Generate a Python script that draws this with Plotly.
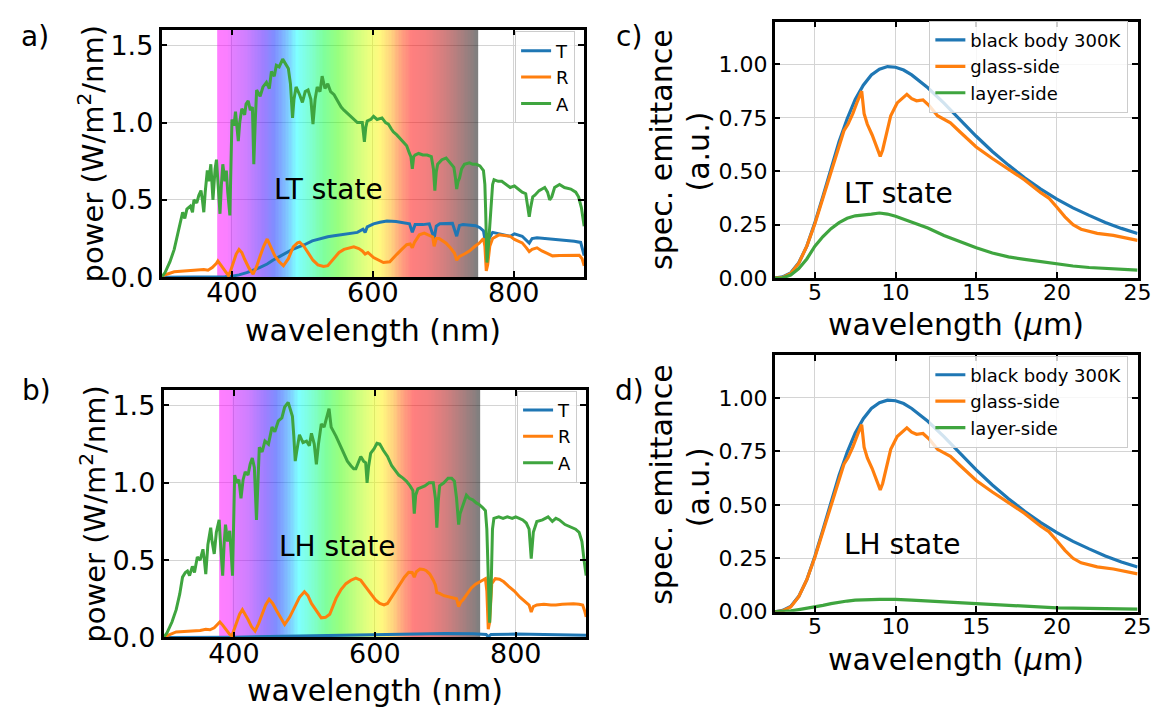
import numpy as np
import plotly.graph_objects as go

W, H = 1164, 713

# ---------------- data: panel a (LT state, solar spectrum) ----------------
LT_T_nm = [300, 320, 340, 360, 380, 390, 400, 410, 421, 430, 440, 450, 458, 468, 477, 486, 494, 503, 514, 526,
           536, 545, 554, 565, 578, 586, 589, 592, 601, 610, 620, 633, 645, 652, 656, 660, 671, 680, 687, 690,
           695, 705, 713, 719, 723, 728, 738, 746, 752, 757, 760, 762, 765, 770, 780, 795, 801, 812, 822, 826,
           833, 845, 860, 873, 886, 895, 900]
LT_T = [0.0, 0.0, 0.0, 0.0, 0.001, 0.003, 0.006, 0.015, 0.03, 0.045, 0.063, 0.085, 0.11, 0.135, 0.16, 0.18, 0.195,
        0.21, 0.235, 0.25, 0.262, 0.268, 0.275, 0.28, 0.29, 0.31, 0.29, 0.325, 0.345, 0.355, 0.363, 0.36, 0.352,
        0.345, 0.29, 0.34, 0.34, 0.345, 0.25, 0.33, 0.345, 0.345, 0.348, 0.265, 0.335, 0.34, 0.338, 0.333, 0.32,
        0.30, 0.22, 0.1, 0.25, 0.29, 0.28, 0.265, 0.28, 0.265, 0.22, 0.25, 0.255, 0.25, 0.245, 0.24, 0.233, 0.225,
        0.14]

LT_R_nm = [300, 302, 318, 330, 341, 352, 360, 366, 372, 378, 380, 384, 388, 392, 395, 398, 402, 406, 410, 414,
           418, 424, 430, 435, 440, 445, 450, 455, 461, 467, 473, 480, 487, 493, 496, 502, 508, 515, 522, 530,
           536, 545, 552, 559, 566, 573, 580, 585, 589, 593, 601, 608, 615, 624, 630, 634, 641, 648, 653, 656,
           659, 666, 673, 680, 685, 687, 690, 694, 704, 710, 716, 719, 723, 730, 737, 745, 751, 757, 759, 761,
           763, 766, 770, 779, 787, 795, 801, 807, 812, 818, 822, 826, 833, 840, 848, 855, 865, 876, 886, 893,
           897, 900]
LT_R = [0.0, 0.01, 0.035, 0.04, 0.04, 0.045, 0.05, 0.045, 0.063, 0.09, 0.105, 0.08, 0.053, 0.03, 0.01, 0.04,
        0.095, 0.15, 0.18, 0.16, 0.116, 0.06, 0.02, 0.07, 0.137, 0.2, 0.247, 0.2, 0.137, 0.1, 0.074, 0.12, 0.196,
        0.222, 0.226, 0.2, 0.158, 0.11, 0.08, 0.07, 0.075, 0.12, 0.16, 0.18, 0.19, 0.196, 0.185, 0.17, 0.15,
        0.16, 0.127, 0.11, 0.095, 0.1, 0.125, 0.148, 0.18, 0.21, 0.215, 0.19, 0.225, 0.274, 0.285, 0.268, 0.26,
        0.2, 0.25, 0.25, 0.22, 0.19, 0.155, 0.11, 0.135, 0.15, 0.169, 0.2, 0.22, 0.25, 0.2, 0.04, 0.08, 0.2,
        0.25, 0.274, 0.27, 0.264, 0.244, 0.23, 0.222, 0.19, 0.165, 0.18, 0.19, 0.17, 0.15, 0.138, 0.14, 0.142,
        0.14, 0.142, 0.12, 0.074]

LT_A_nm = [300, 305, 312, 318, 323, 327, 330, 333, 336, 341, 344, 346, 350, 353, 356, 358, 360, 362, 365, 367,
           370, 373, 376, 378, 380, 383, 385, 387, 390, 392, 394, 397, 400, 403, 405, 407, 409, 411, 414, 418,
           420, 423, 426, 429, 431, 433, 435, 440, 444, 449, 453, 456, 460, 463, 467, 472, 476, 480, 483, 486,
           488, 491, 496, 500, 504, 508, 512, 515, 518, 521, 525, 528, 532, 536, 540, 545, 550, 555, 559, 564,
           568, 573, 578, 585, 588, 590, 592, 597, 601, 606, 613, 618, 622, 626, 629, 634, 638, 643, 648, 652,
           654, 656, 658, 660, 665, 671, 677, 683, 686, 688, 690, 692, 698, 704, 710, 715, 717, 719, 721, 723,
           726, 730, 737, 742, 747, 752, 757, 759, 760, 762, 764, 767, 770, 772, 778, 783, 790, 795, 801, 806,
           812, 817, 820, 822, 824, 827, 830, 836, 844, 848, 851, 854, 858, 865, 872, 881, 888, 892, 896, 900]
LT_A = [0.0, 0.03, 0.1, 0.18, 0.28, 0.37, 0.42, 0.38, 0.44, 0.46, 0.42, 0.5, 0.48, 0.53, 0.56, 0.5, 0.42, 0.55,
        0.69, 0.62, 0.73, 0.5, 0.7, 0.76, 0.6, 0.41, 0.6, 0.73, 0.62, 0.69, 0.55, 0.4, 1.02, 0.98, 1.07, 0.96,
        0.88, 1.0, 1.09, 1.05, 1.12, 1.14, 1.08, 1.1, 0.73, 1.0, 1.21, 1.17, 1.23, 1.26, 1.22, 1.33, 1.3, 1.37,
        1.36, 1.41, 1.38, 1.35, 1.25, 1.03, 1.15, 1.23, 1.18, 1.13, 1.2, 1.21, 1.15, 0.99, 1.15, 1.23, 1.2, 1.3,
        1.22, 1.25, 1.2, 1.18, 1.14, 1.1, 1.08, 1.06, 1.04, 1.02, 1.0, 1.0, 0.875, 0.97, 1.01, 1.02, 1.04, 1.02,
        1.03, 1.0, 0.99, 0.96, 0.94, 0.92, 0.9, 0.87, 0.85, 0.8, 0.78, 0.7, 0.78, 0.79, 0.8, 0.79, 0.79, 0.78,
        0.7, 0.56, 0.68, 0.73, 0.76, 0.77, 0.74, 0.71, 0.65, 0.57, 0.62, 0.64, 0.7, 0.73, 0.74, 0.73, 0.73, 0.72,
        0.69, 0.6, 0.45, 0.095, 0.2, 0.43, 0.6, 0.63, 0.62, 0.62, 0.6, 0.58, 0.59, 0.57, 0.55, 0.54, 0.46, 0.39,
        0.45, 0.52, 0.53, 0.56, 0.58, 0.55, 0.5, 0.52, 0.58, 0.6, 0.58, 0.57, 0.55, 0.52, 0.45, 0.33]

# ---------------- data: panel b (LH state) ----------------
LH_T_nm = [300, 380, 400, 450, 500, 550, 600, 650, 700, 740, 758, 761, 765, 800, 850, 900]
LH_T = [0.0, 0.0, 0.002, 0.006, 0.01, 0.015, 0.02, 0.022, 0.025, 0.024, 0.02, 0.005, 0.02, 0.022, 0.02, 0.015]

LH_R_nm = [300, 302, 318, 330, 341, 352, 360, 366, 372, 377, 380, 384, 390, 394, 397, 400, 404, 408, 412, 416,
           420, 425, 430, 435, 440, 445, 450, 455, 461, 467, 472, 479, 486, 493, 500, 505, 510, 517, 524, 530,
           536, 545, 552, 559, 566, 573, 580, 587, 593, 601, 607, 613, 618, 624, 630, 636, 642, 648, 653, 656,
           659, 664, 669, 673, 678, 683, 686, 688, 692, 698, 704, 710, 716, 719, 722, 725, 731, 737, 743, 748,
           753, 757, 759, 761, 763, 766, 771, 777, 783, 790, 798, 806, 814, 819, 822, 825, 830, 840, 850, 857,
           866, 875, 882, 890, 895, 898, 900]
LH_R = [0.0, 0.006, 0.036, 0.04, 0.042, 0.045, 0.053, 0.05, 0.063, 0.085, 0.1, 0.08, 0.042, 0.02, 0.01, 0.05,
        0.105, 0.15, 0.18, 0.15, 0.116, 0.07, 0.042, 0.09, 0.148, 0.21, 0.247, 0.22, 0.169, 0.12, 0.084, 0.13,
        0.2, 0.26, 0.295, 0.27, 0.22, 0.17, 0.127, 0.13, 0.15, 0.253, 0.31, 0.348, 0.37, 0.384, 0.37, 0.327,
        0.29, 0.243, 0.22, 0.211, 0.22, 0.264, 0.31, 0.348, 0.39, 0.422, 0.42, 0.39, 0.425, 0.443, 0.44, 0.432,
        0.41, 0.37, 0.34, 0.29, 0.285, 0.27, 0.264, 0.255, 0.25, 0.2, 0.23, 0.243, 0.28, 0.32, 0.345, 0.36,
        0.37, 0.38, 0.3, 0.053, 0.1, 0.348, 0.38, 0.377, 0.36, 0.33, 0.3, 0.26, 0.23, 0.21, 0.165, 0.2, 0.21,
        0.215, 0.21, 0.21, 0.215, 0.218, 0.218, 0.215, 0.21, 0.17, 0.133]

LH_A_nm = [300, 305, 312, 318, 323, 327, 331, 334, 337, 341, 344, 348, 352, 356, 358, 360, 363, 367, 369, 372,
           375, 379, 381, 384, 386, 388, 391, 394, 396, 398, 401, 404, 407, 409, 410, 413, 416, 420, 423, 426,
           429, 432, 434, 436, 440, 444, 449, 454, 458, 463, 468, 472, 477, 480, 483, 485, 487, 489, 493, 498,
           503, 507, 510, 514, 517, 520, 524, 528, 532, 535, 538, 542, 545, 550, 556, 561, 566, 570, 573, 577,
           580, 584, 587, 589, 591, 594, 599, 603, 607, 612, 618, 624, 629, 634, 640, 645, 650, 654, 656, 658,
           661, 666, 671, 677, 683, 686, 688, 690, 692, 698, 704, 709, 713, 716, 719, 721, 725, 730, 734, 739,
           744, 748, 753, 757, 759, 761, 763, 765, 767, 769, 776, 782, 788, 795, 800, 805, 810, 815, 819, 822,
           825, 830, 838, 846, 852, 857, 862, 870, 878, 885, 890, 894, 897, 900]
LH_A = [0.0, 0.03, 0.1, 0.18, 0.28, 0.39, 0.42, 0.43, 0.4, 0.46, 0.42, 0.52, 0.5, 0.57, 0.5, 0.41, 0.6, 0.71,
        0.62, 0.54, 0.68, 0.76, 0.6, 0.4, 0.6, 0.73, 0.62, 0.69, 0.55, 0.4, 1.05, 1.0, 1.02, 0.95, 0.9, 1.02,
        1.07, 1.05, 1.12, 1.16, 1.1, 0.76, 1.05, 1.23, 1.2, 1.27, 1.25, 1.36, 1.33, 1.4, 1.42, 1.49, 1.52, 1.48,
        1.43, 1.3, 1.14, 1.2, 1.31, 1.26, 1.27, 1.24, 1.32, 1.25, 1.12, 1.25, 1.38, 1.36, 1.44, 1.48, 1.36, 1.33,
        1.3, 1.25, 1.19, 1.14, 1.11, 1.09, 1.09, 1.13, 1.17, 1.14, 1.13, 1.0, 1.1, 1.19, 1.22, 1.255, 1.25, 1.21,
        1.17, 1.11, 1.08, 1.05, 1.03, 1.01, 0.98, 0.95, 0.8, 0.92, 0.96, 0.97, 0.98, 1.0, 1.0, 0.9, 0.71, 0.88,
        0.98, 1.0, 1.03, 1.03, 1.01, 0.9, 0.73, 0.8, 0.85, 0.92, 0.9, 0.89, 0.87, 0.86, 0.84, 0.82, 0.7, 0.35,
        0.095, 0.3, 0.7, 0.77, 0.78, 0.77, 0.78, 0.77, 0.78, 0.77, 0.76, 0.74, 0.7, 0.51, 0.68, 0.75, 0.76, 0.78,
        0.75, 0.77, 0.76, 0.73, 0.715, 0.7, 0.68, 0.62, 0.5, 0.40]

# ---------------- data: panels c, d (thermal emittance) ----------------
BB_um = [2.5, 3.0, 3.5, 4.0, 4.5, 5.0, 5.5, 6.0, 6.5, 7.0, 7.5, 8.0, 8.5, 9.0, 9.5, 10.0, 10.5, 11.0, 12.0, 13.0,
         14.0, 15.0, 16.0, 17.0, 18.0, 19.0, 20.0, 21.0, 22.0, 23.0, 24.0, 25.0]
BB = [0.0, 0.006, 0.025, 0.072, 0.15, 0.26, 0.384, 0.514, 0.639, 0.746, 0.836, 0.903, 0.951, 0.978, 0.99, 0.987,
      0.974, 0.951, 0.891, 0.819, 0.741, 0.664, 0.593, 0.529, 0.470, 0.417, 0.370, 0.329, 0.294, 0.261, 0.233,
      0.209]

GLASS_um = [2.5, 3.0, 3.5, 4.0, 4.5, 5.0, 5.5, 6.0, 6.5, 6.8, 7.05, 7.35, 7.65, 7.9, 8.05, 8.25, 8.55, 8.85, 9.05,
            9.2, 9.4, 9.7, 10.1, 10.5, 10.7, 11.0, 11.3, 11.7, 12.1, 12.6, 13.4, 14.0, 15.0, 16.0, 17.0, 17.5,
            18.0, 19.0, 19.5, 20.0, 20.5, 21.0, 21.5, 22.5, 23.5, 25.0]
GLASS = [0.0, 0.004, 0.022, 0.07, 0.15, 0.255, 0.375, 0.5, 0.615, 0.69, 0.72, 0.77, 0.83, 0.875, 0.77, 0.72, 0.67,
         0.605, 0.57, 0.6, 0.67, 0.76, 0.82, 0.85, 0.86, 0.84, 0.83, 0.834, 0.806, 0.76, 0.727, 0.684, 0.614, 0.56,
         0.51, 0.485, 0.46, 0.40, 0.375, 0.332, 0.287, 0.25, 0.229, 0.21, 0.20, 0.177]

LAYER_um = [2.5, 3.0, 3.5, 4.0, 4.5, 5.0, 5.5, 6.0, 6.5, 7.0, 7.5, 8.0, 8.5, 9.0, 9.5, 10.0, 11.0, 12.0, 13.0, 14.0,
            15.0, 16.0, 17.0, 18.0, 19.0, 20.0, 21.0, 22.0, 23.0, 24.0, 25.0]
LAYER_LT = [0.0, 0.002, 0.015, 0.045, 0.09, 0.15, 0.195, 0.232, 0.26, 0.28, 0.292, 0.295, 0.3, 0.305, 0.3, 0.29,
            0.264, 0.235, 0.2, 0.17, 0.142, 0.118, 0.1, 0.088, 0.077, 0.066, 0.057, 0.05, 0.045, 0.041, 0.038]
LAYER_LH = [0.0, 0.001, 0.004, 0.01, 0.016, 0.023, 0.03, 0.038, 0.045, 0.05, 0.054, 0.056, 0.057, 0.058, 0.058,
            0.058, 0.054, 0.05, 0.045, 0.04, 0.036, 0.032, 0.028, 0.025, 0.021, 0.018, 0.017, 0.015, 0.014, 0.013,
            0.012]

# visible band (background gradient)
BAND_NM = list(range(380, 749, 2))
BAND_STOPS = [(380, "rgb(255,0,255)"), (395, "rgb(245,0,255)"), (400, "rgb(200,0,255)"), (420, "rgb(160,0,255)"),
              (445, "rgb(60,0,255)"), (460, "rgb(0,30,255)"), (475, "rgb(0,120,255)"), (492, "rgb(0,255,255)"),
              (510, "rgb(0,255,170)"), (530, "rgb(0,255,60)"), (550, "rgb(50,255,0)"), (575, "rgb(150,255,0)"),
              (598, "rgb(230,255,0)"), (610, "rgb(255,240,0)"), (625, "rgb(255,170,0)"), (640, "rgb(255,70,0)"),
              (655, "rgb(255,0,0)"), (675, "rgb(235,0,0)"), (700, "rgb(170,0,0)"), (725, "rgb(85,0,0)"),
              (748, "rgb(0,0,0)")]

C_BLUE, C_ORANGE, C_GREEN = "#1f77b4", "#ff7f0e", "#3fa53f"

fig = go.Figure()
zmin, zmax = BAND_STOPS[0][0], BAND_STOPS[-1][0]
cscale = [[(w - zmin) / (zmax - zmin), c] for w, c in BAND_STOPS]

def band(xa, ya):
    fig.add_trace(go.Heatmap(x=BAND_NM, y=[0.0, 1.6], z=[BAND_NM, BAND_NM], colorscale=cscale, zmin=zmin, zmax=zmax,
                             showscale=False, opacity=0.5, hoverinfo="skip", xaxis=xa, yaxis=ya))

def line(x, y, name, color, xa, ya, leg, width=3):
    fig.add_trace(go.Scatter(x=x, y=y, mode="lines", name=name, line=dict(color=color, width=width),
                             xaxis=xa, yaxis=ya, legend=leg, legendgroup=leg + name))

band("x", "y")
line(LT_T_nm, LT_T, "T", C_BLUE, "x", "y", "legend")
line(LT_R_nm, LT_R, "R", C_ORANGE, "x", "y", "legend")
line(LT_A_nm, LT_A, "A", C_GREEN, "x", "y", "legend")

band("x2", "y2")
line(LH_T_nm, LH_T, "T", C_BLUE, "x2", "y2", "legend2")
line(LH_R_nm, LH_R, "R", C_ORANGE, "x2", "y2", "legend2")
line(LH_A_nm, LH_A, "A", C_GREEN, "x2", "y2", "legend2")

for xa, ya, leg, lay in [("x3", "y3", "legend3", LAYER_LT), ("x4", "y4", "legend4", LAYER_LH)]:
    line(BB_um, BB, "black body 300K", C_BLUE, xa, ya, leg, 3.2)
    line(GLASS_um, GLASS, "glass-side", C_ORANGE, xa, ya, leg, 3.2)
    line(LAYER_um, lay, "layer-side", C_GREEN, xa, ya, leg, 3.2)

def axis(domain, rng, tickvals, fmt, size, anchor, standoff=0):
    return dict(domain=domain, range=rng, tickvals=tickvals, tickformat=fmt, anchor=anchor,
                showline=True, linecolor="black", linewidth=2.5, mirror="allticks",
                ticks="inside", ticklen=6, tickwidth=2, tickcolor="black",
                showgrid=True, gridcolor="#d4d4d4", gridwidth=1, zeroline=False,
                ticklabelstandoff=standoff,
                tickfont=dict(size=size, color="black", family="DejaVu Sans"))

def px(x): return x / W
def py(y): return 1 - y / H

XL_A = [px(155.4), px(583.2)]
XL_B = [px(157.4), px(585.2)]
XR = [px(775.9), px(1143.3)]
YA = [py(275.0), py(22.2)]
YB = [py(643.0), py(390.2)]
YC = [py(276.0), py(14.0)]
YD = [py(616.7), py(354.7)]

left_x = [400, 600, 800]
left_y = [0.0, 0.5, 1.0, 1.5]
right_x = [5, 10, 15, 20, 25]
right_y = [0.0, 0.25, 0.5, 0.75, 1.0]

legend_style = dict(bgcolor="rgba(255,255,255,0.8)", bordercolor="#cccccc", borderwidth=1,
                    font=dict(size=18, color="black", family="DejaVu Sans"), xanchor="right", yanchor="top",
                    tracegroupgap=0)

fig.update_layout(
    width=W, height=H, margin=dict(l=0, r=0, t=0, b=0),
    paper_bgcolor="white", plot_bgcolor="white",
    font=dict(family="DejaVu Sans", color="black"),
    xaxis=axis(XL_A, [300, 900], left_x, "d", 27, "y", -10),
    yaxis=axis(YA, [0, 1.6], left_y, ".1f", 27, "x"),
    xaxis2=axis(XL_B, [300, 900], left_x, "d", 27, "y2", -10),
    yaxis2=axis(YB, [0, 1.6], left_y, ".1f", 27, "x2"),
    xaxis3=axis(XR, [2.5, 25], right_x, "d", 22, "y3", -7),
    yaxis3=axis(YC, [0, 1.2], right_y, ".2f", 22, "x3"),
    xaxis4=axis(XR, [2.5, 25], right_x, "d", 22, "y4", -7),
    yaxis4=axis(YD, [0, 1.2], right_y, ".2f", 22, "x4"),
    legend=dict(x=px(574.0), y=py(24.0), **legend_style),
    legend2=dict(x=px(576.0), y=py(391.0), **legend_style),
    legend3=dict(x=px(1134.0), y=py(13.0), **legend_style),
    legend4=dict(x=px(1134.0), y=py(355.0), **legend_style),
)

def ann(text, x, y, size, angle=0):
    fig.add_annotation(text=text, x=px(x), y=py(y), xref="paper", yref="paper", showarrow=False,
                       xanchor="center", yanchor="middle", textangle=angle,
                       font=dict(size=size, color="black", family="DejaVu Sans"))

# panel letters
ann("a)", 27, 29, 28)
ann("b)", 29, 391, 28)
ann("c)", 629, 29, 28)
ann("d)", 629, 391, 28)
# axis titles
ann("wavelength (nm)", 369.3, 329, 30)
ann("wavelength (nm)", 371.3, 697, 30)
ann("wavelength (<i>μ</i>m)", 959.6, 323, 30)
ann("wavelength (<i>μ</i>m)", 959.6, 666, 30)
ann("power (W/m<sup>2</sup>/nm)", 84, 148.6, 29, -90)
ann("power (W/m<sup>2</sup>/nm)", 86, 516.6, 29, -90)
ann("spec. emittance", 662, 145, 30, -90)
ann("(a.u.)", 699, 147, 30, -90)
ann("spec. emittance", 662, 487, 30, -90)
ann("(a.u.)", 699, 490, 30, -90)

# state labels (data coordinates)
fig.add_annotation(text="LT state", x=537, y=0.57, xref="x", yref="y", showarrow=False,
                   font=dict(size=28, color="black", family="DejaVu Sans"))
fig.add_annotation(text="LH state", x=546, y=0.59, xref="x2", yref="y2", showarrow=False,
                   font=dict(size=28, color="black", family="DejaVu Sans"))
fig.add_annotation(text="LT state", x=10.2, y=0.397, xref="x3", yref="y3", showarrow=False,
                   font=dict(size=28, color="black", family="DejaVu Sans"))
fig.add_annotation(text="LH state", x=10.4, y=0.313, xref="x4", yref="y4", showarrow=False,
                   font=dict(size=28, color="black", family="DejaVu Sans"))

fig.write_html("out.html")
